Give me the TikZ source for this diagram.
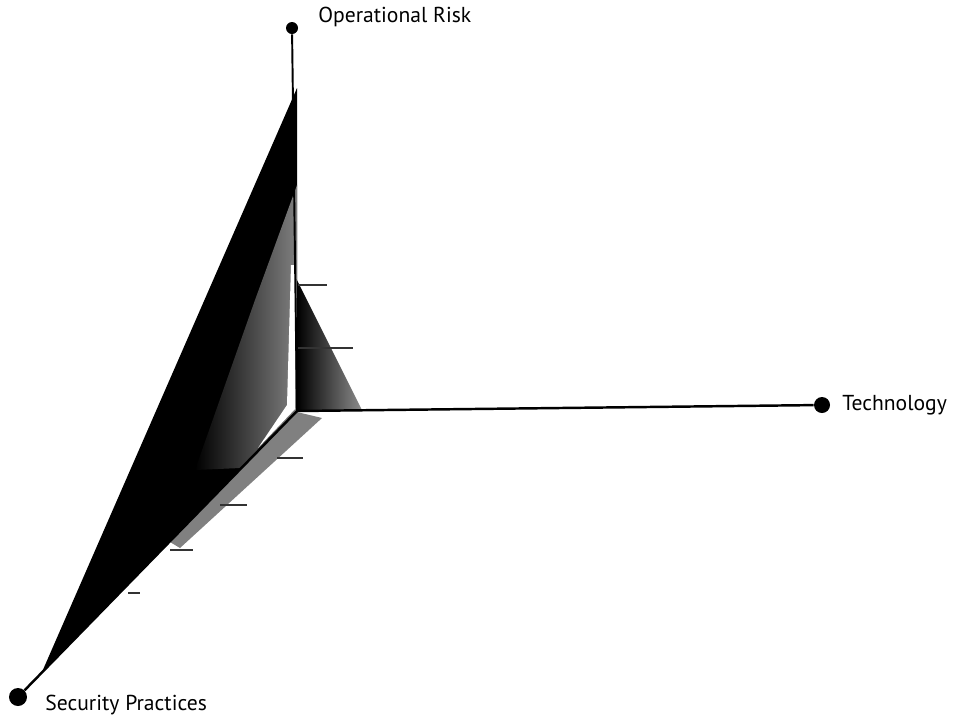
\documentclass[tikz,border=0pt]{standalone}
\usepackage{fontspec}
\setmainfont{PT Sans}
\begin{document}
\begin{tikzpicture}[x=0.02cm, y=-0.02cm,
   dot/.style={circle, fill, inner sep=0pt, minimum size=#1},
   lbl/.style={font=\fontsize{12.3}{14}\selectfont, inner sep=0pt, anchor=west}]
   \useasboundingbox (0,0) rectangle (955,718);
   % shaded plane
   \fill (297,88) -- (42,672) -- (297,412) -- cycle;
   \shade[left color=black, right color=black!50] (297,185) -- (297,412) -- (240,468) -- (195,470) -- (255,300) -- cycle;
   \shade[left color=black, right color=black!45] (297,280) -- (362,410) -- (297,410) -- cycle;
   \fill[black!50] (297,412) -- (322,418) -- (180,548) -- (170,542) -- cycle;
   \fill[white] (291,265) -- (295,265) -- (295,409) -- (258,448) -- (287,405) -- cycle;
   \foreach \x/\y/\w in {298/285/29, 298/348/55, 277/458/26, 220/505/27, 170/550/23, 128/593/12}
     \draw[line width=0.6pt, black!80] (\x,\y) -- ++(\w,0);
   % axes
   \coordinate (o) at (297,411);
   \node[dot=0.24cm] (risk) at (292,28) {};
   \node[dot=0.32cm] (tech) at (822,405) {};
   \node[dot=0.36cm] (sec) at (18,697) {};
   \draw[line width=1.1pt] (o) -- (risk);
   \draw[line width=1.4pt] (o) -- (tech);
   \draw[line width=1.4pt] (o) -- (sec);
   \node[lbl] (risklbl) at (318,17) {Operational Risk};
   \node[lbl] (techlbl) at (842,405) {Technology};
   \node[lbl] (seclbl) at (45,705) {Security Practices};
\end{tikzpicture}
\end{document}
